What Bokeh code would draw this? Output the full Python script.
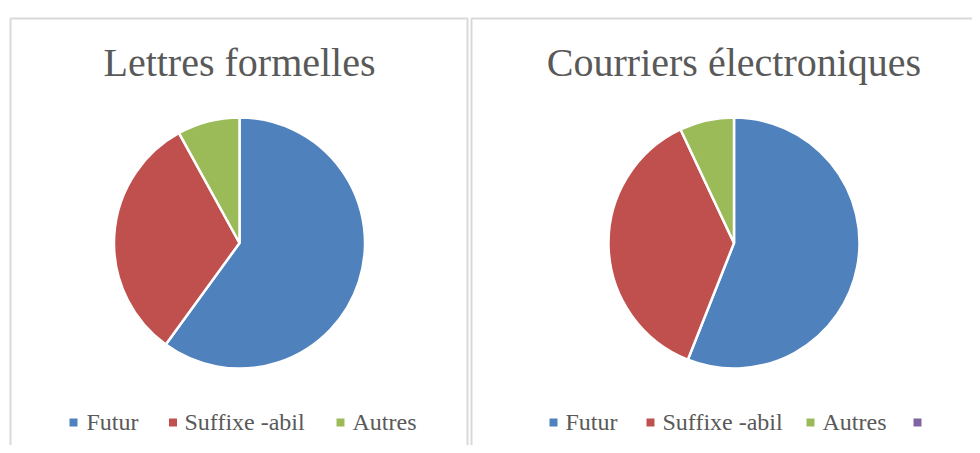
import math
from bokeh.plotting import figure
from bokeh.models import Range1d, ColumnDataSource
from bokeh.core.properties import value
from bokeh.embed import file_html
from bokeh.resources import INLINE

# ---- data ----
categories = ["Futur", "Suffixe -abil", "Autres"]
colors = ["#4F81BD", "#C0504D", "#9BBB59", "#8064A2"]
title_left = "Lettres formelles"
title_right = "Courriers électroniques"
lettres = [60, 32, 8]
courriers = [56, 37, 7, 0]
courriers_labels = ["Futur", "Suffixe -abil", "Autres", ""]

W, H = 972, 445

p = figure(width=W, height=H, output_backend="svg", toolbar_location=None,
           x_range=Range1d(0, W), y_range=Range1d(0, H),
           min_border=0, outline_line_color=None)
p.axis.visible = False
p.grid.visible = False
p.background_fill_color = "white"
p.border_fill_color = "white"


def Y(sy):
    # screen y (from top of picture) -> data y
    return H - sy


FONT = value("Liberation Serif")
TXT = "#595959"

# panel frames
p.quad(left=[10, 471], right=[467, 995], top=[Y(18), Y(18)], bottom=[Y(470), Y(470)],
       fill_color=None, line_color="#d9d9d9", line_width=2)


def pie(cx, cy, r, vals, title, labels, sq_x, tx_x):
    tot = float(sum(vals))
    cum = 0.0
    starts, ends, cols = [], [], []
    for v, c in zip(vals, colors):
        if v > 0:
            a0 = math.pi / 2 - 2 * math.pi * (cum + v) / tot
            a1 = math.pi / 2 - 2 * math.pi * cum / tot
            starts.append(a0)
            ends.append(a1)
            cols.append(c)
        cum += v
    src = ColumnDataSource(dict(x=[cx] * len(starts), y=[Y(cy)] * len(starts),
                                s=starts, e=ends, c=cols))
    p.wedge(x="x", y="y", radius=r, start_angle="s", end_angle="e", source=src,
            fill_color="c", line_color="white", line_width=2.5)
    p.text(x=[cx], y=[Y(62)], text=[title], text_font=FONT, text_font_size="40px",
           text_color=TXT, text_align="center", text_baseline="middle")
    n = len(labels)
    p.scatter(x=sq_x[:n], y=[Y(422)] * n, marker="square", size=8,
              fill_color=colors[:n], line_color=None)
    p.text(x=tx_x[:n], y=[Y(421.5)] * n, text=labels, text_font=FONT,
           text_font_size="24px", text_color=TXT, text_align="left",
           text_baseline="middle")


pie(239, 242.5, 125.5, lettres, title_left, categories,
    [73, 172.5, 340], [86, 184, 352])
pie(733.5, 242.5, 125.5, courriers, title_right, courriers_labels,
    [553, 650, 810, 917], [565, 662, 822, 930])

open("out.html", "w").write(file_html(p, INLINE))
